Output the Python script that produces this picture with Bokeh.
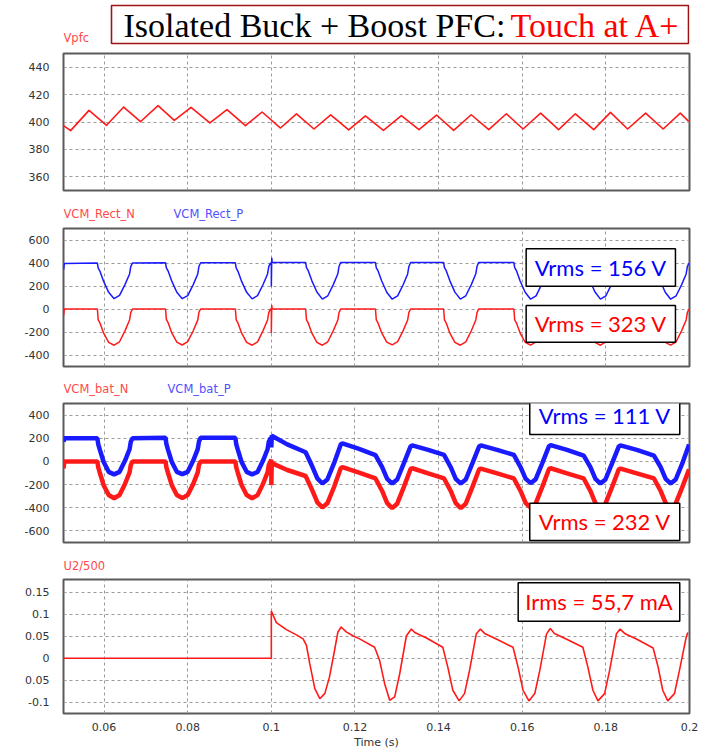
from bokeh.plotting import figure
from bokeh.models import Range1d, FixedTicker, BoxAnnotation, Label
from bokeh.layouts import column
from bokeh.core.properties import value
from bokeh.embed import file_html
from bokeh.resources import INLINE

# ---------------- data ----------------
x_ticks = [0.06, 0.08, 0.1, 0.12, 0.14, 0.16, 0.18, 0.2]
x_tick_labels = ["0.06", "0.08", "0.1", "0.12", "0.14", "0.16", "0.18", "0.2"]

# Panel 1: Vpfc
t_vpfc = [0.0503, 0.0520, 0.0564, 0.0606, 0.0647, 0.0687, 0.0729, 0.0768, 0.0808, 0.0853,
          0.0894, 0.0938, 0.0978, 0.1022, 0.1060, 0.1102, 0.1142, 0.1185, 0.1225, 0.1268,
          0.1311, 0.1353, 0.1395, 0.1436, 0.1478, 0.1520, 0.1562, 0.1602, 0.1644, 0.1687,
          0.1727, 0.1771, 0.1811, 0.1852, 0.1895, 0.1937, 0.1978, 0.1998]
vpfc = [397.3, 393.7, 408.5, 397.6, 410.9, 400.2, 411.9, 401.2, 410.7, 399.3,
        409.0, 397.3, 407.3, 395.6, 406.0, 394.9, 405.2, 394.2, 404.4, 393.9,
        404.6, 394.4, 405.1, 393.9, 405.3, 394.4, 406.0, 394.9, 406.5, 394.4,
        406.0, 394.4, 407.0, 394.9, 406.5, 394.9, 406.5, 400.5]
vpfc_ticks = [360, 380, 400, 420, 440]
vpfc_tick_labels = ["360", "380", "400", "420", "440"]

# Panel 2: VCM_Rect_N / VCM_Rect_P
t_rect = [0.0503, 0.0505,
          0.0584, 0.0586, 0.0590, 0.0599, 0.0611, 0.0624, 0.0637, 0.0650, 0.0661, 0.0664, 0.0668,
          0.0747, 0.0749, 0.0753, 0.0762, 0.0774, 0.0787, 0.0800, 0.0813, 0.0824, 0.0827, 0.0831,
          0.0914, 0.0916, 0.0920, 0.0929, 0.0941, 0.0954, 0.0967, 0.0980, 0.0991, 0.0994, 0.0998,
          0.1000, 0.1000, 0.1001, 0.1002,
          0.1082, 0.1084, 0.1088, 0.1097, 0.1109, 0.1122, 0.1135, 0.1148, 0.1159, 0.1162, 0.1166,
          0.1249, 0.1251, 0.1255, 0.1264, 0.1276, 0.1289, 0.1302, 0.1315, 0.1326, 0.1329, 0.1333,
          0.1412, 0.1414, 0.1418, 0.1427, 0.1439, 0.1452, 0.1465, 0.1478, 0.1489, 0.1492, 0.1496,
          0.1580, 0.1582, 0.1586, 0.1595, 0.1607, 0.1620, 0.1633, 0.1646, 0.1657, 0.1660, 0.1664,
          0.1747, 0.1749, 0.1753, 0.1762, 0.1774, 0.1787, 0.1800, 0.1813, 0.1824, 0.1827, 0.1831,
          0.1915, 0.1917, 0.1921, 0.1930, 0.1942, 0.1955, 0.1968, 0.1981, 0.1992, 0.1995, 0.1999]
vcm_rect_n = [-60, 0,
              0, -95, -120, -210, -290, -315, -285, -190, -95, -30, 0,
              0, -90, -118, -208, -288, -313, -284, -192, -97, -28, 0,
              0, -95, -120, -210, -290, -315, -286, -190, -95, -30, 0,
              0, -210, 35, 0,
              0, -92, -120, -210, -290, -315, -285, -190, -95, -30, 0,
              0, -95, -121, -208, -288, -312, -284, -190, -96, -30, 0,
              0, -94, -120, -210, -290, -315, -286, -191, -95, -29, 0,
              0, -95, -120, -209, -289, -314, -285, -190, -95, -30, 0,
              0, -93, -119, -210, -290, -315, -286, -190, -96, -30, 0,
              0, -95, -120, -210, -290, -314, -285, -190, -95, -30, 0]
vcm_rect_p = [340, 395,
              400, 355, 330, 240, 145, 90, 118, 212, 305, 370, 400,
              402, 358, 332, 242, 146, 90, 117, 210, 304, 372, 402,
              402, 356, 330, 240, 145, 88, 116, 211, 305, 370, 400,
              400, 195, 445, 405,
              405, 360, 335, 245, 148, 86, 115, 210, 306, 372, 405,
              405, 358, 333, 243, 146, 85, 114, 209, 305, 370, 405,
              405, 360, 335, 245, 147, 86, 115, 210, 306, 372, 405,
              405, 359, 334, 244, 146, 85, 114, 210, 305, 371, 405,
              405, 360, 335, 245, 148, 86, 115, 210, 306, 372, 405,
              405, 358, 333, 243, 146, 85, 115, 210, 305, 370, 400]
rect_ticks = [-400, -200, 0, 200, 400, 600]
rect_tick_labels = ["-400", "-200", "0", "200", "400", "600"]

# Panel 3: VCM_bat_N / VCM_bat_P
t_bat = [0.0503, 0.0505,
         0.0584, 0.0586, 0.0590, 0.0599, 0.0611, 0.0624, 0.0637, 0.0650, 0.0661, 0.0664, 0.0668,
         0.0747, 0.0749, 0.0753, 0.0762, 0.0774, 0.0787, 0.0800, 0.0813, 0.0824, 0.0827, 0.0831,
         0.0914, 0.0916, 0.0920, 0.0929, 0.0941, 0.0954, 0.0967, 0.0980, 0.0991, 0.0994, 0.0998,
         0.1000, 0.1000, 0.1001, 0.1038,
         0.1082, 0.1098, 0.1110, 0.1122, 0.1134, 0.1150, 0.1166, 0.1170, 0.1208,
         0.1249, 0.1265, 0.1277, 0.1289, 0.1301, 0.1317, 0.1333, 0.1337, 0.1375,
         0.1413, 0.1429, 0.1441, 0.1453, 0.1465, 0.1481, 0.1497, 0.1501, 0.1540,
         0.1580, 0.1596, 0.1608, 0.1620, 0.1632, 0.1648, 0.1664, 0.1668, 0.1707,
         0.1747, 0.1763, 0.1775, 0.1787, 0.1799, 0.1815, 0.1831, 0.1835, 0.1874,
         0.1915, 0.1931, 0.1943, 0.1955, 0.1967, 0.1983, 0.1999]
vcm_bat_n = [-60, 0,
             0, -50, -100, -205, -290, -318, -290, -195, -95, -30, 0,
             0, -52, -100, -205, -290, -317, -290, -196, -95, -30, 0,
             0, -50, -100, -206, -290, -318, -291, -195, -95, -30, 0,
             15, -205, -15, -74,
             -126, -250, -353, -397, -362, -221, -59, -50, -95,
             -147, -255, -360, -403, -365, -220, -65, -59, -103,
             -147, -255, -360, -403, -365, -220, -68, -62, -103,
             -147, -255, -358, -400, -364, -220, -65, -59, -103,
             -147, -255, -360, -403, -365, -220, -68, -62, -103,
             -147, -255, -360, -403, -365, -220, -68]
vcm_bat_p = [170, 200,
             200, 150, 100, -5, -90, -112, -90, 5, 105, 170, 200,
             205, 152, 100, -5, -90, -110, -90, 5, 106, 172, 205,
             205, 150, 100, -6, -90, -112, -91, 5, 105, 170, 200,
             200, 120, 222, 147,
             79, -44, -147, -191, -156, -15, 147, 156, 110,
             55, -50, -150, -191, -156, -15, 130, 138, 100,
             56, -50, -150, -191, -156, -15, 130, 138, 100,
             56, -50, -148, -188, -155, -15, 132, 140, 100,
             50, -50, -150, -191, -156, -15, 130, 138, 100,
             50, -50, -150, -191, -156, -15, 147]
bat_ticks = [-600, -400, -200, 0, 200, 400]
bat_tick_labels = ["-600", "-400", "-200", "0", "200", "400"]

# Panel 4: U2/500
t_u2 = [0.0503, 0.1000, 0.1000, 0.1012, 0.1036, 0.1060, 0.1076, 0.1084, 0.1092, 0.1104,
        0.1116, 0.1128, 0.1139, 0.1151, 0.1159, 0.1167, 0.1179, 0.1195, 0.1211,
        0.1247, 0.1259, 0.1271, 0.1283, 0.1295, 0.1307, 0.1323, 0.1335, 0.1343, 0.1371,
        0.1410, 0.1422, 0.1434, 0.1449, 0.1462, 0.1474, 0.1490, 0.1500, 0.1510, 0.1538,
        0.1578, 0.1590, 0.1602, 0.1616, 0.1630, 0.1642, 0.1658, 0.1667, 0.1677, 0.1705,
        0.1745, 0.1757, 0.1769, 0.1781, 0.1797, 0.1809, 0.1825, 0.1834, 0.1845, 0.1873,
        0.1913, 0.1925, 0.1936, 0.1948, 0.1964, 0.1976, 0.1992, 0.1996]
u2 = [0, 0, 0.1075, 0.081, 0.065, 0.053, 0.044, 0.029, -0.013, -0.069,
      -0.092, -0.080, -0.043, 0.017, 0.059, 0.071, 0.060, 0.051, 0.044,
      0.0248, -0.0053, -0.0579, -0.0955, -0.088, -0.0353, 0.0511, 0.0662, 0.0586, 0.0459,
      0.0248, -0.0203, -0.0729, -0.097, -0.0805, -0.0278, 0.0549, 0.0662, 0.0564, 0.0436,
      0.0248, -0.0203, -0.0729, -0.097, -0.0805, -0.0278, 0.0549, 0.0677, 0.0564, 0.0436,
      0.0248, -0.0203, -0.0729, -0.097, -0.0805, -0.0278, 0.0549, 0.0662, 0.0564, 0.0436,
      0.0233, -0.0203, -0.0729, -0.097, -0.0805, -0.0278, 0.0474, 0.0586]
u2_ticks = [-0.1, -0.05, 0, 0.05, 0.1, 0.15]
u2_tick_labels = ["-0.1", "0.05", "0", "0.05", "0.1", "0.15"]

# ---------------- styling ----------------
RED = "#ff1a1a"
BLUE = "#1a1aff"
LBL_RED = "#ff4a4a"
LBL_BLUE = "#5050ff"
SANS = "DejaVu Sans"
BOXFONT = "Lato"
XR = (0.0503, 0.2)
FL, FR = 63, 689          # frame left / right in pixels
W = 705


def strip(height, items, yc):
    """Text strip above a panel; x and y are pixel positions."""
    s = figure(width=W, height=height, x_range=Range1d(FL, FR), y_range=Range1d(height, 0),
               output_backend="svg", toolbar_location=None,
               min_border_left=FL, min_border_right=W - FR, min_border_top=0, min_border_bottom=0,
               x_axis_location=None, y_axis_location=None)
    s.grid.visible = False
    s.outline_line_color = None
    for x, txt, col in items:
        s.text(x=[x], y=[yc], text=[txt], text_color=col, text_font=value(SANS),
               text_font_size="11.5px", text_baseline="middle", text_align="left")
    return s


def panel(height, top, bottom, yr, yticks, ylabels, show_x=False):
    p = figure(width=W, height=height, x_range=Range1d(*XR), y_range=Range1d(*yr),
               output_backend="svg", toolbar_location=None,
               min_border_left=FL, min_border_right=W - FR,
               min_border_top=top, min_border_bottom=bottom)
    p.outline_line_color = "#5a5a5a"
    p.outline_line_width = 2
    p.yaxis.ticker = FixedTicker(ticks=yticks)
    p.ygrid.ticker = FixedTicker(ticks=yticks)
    p.yaxis.major_label_overrides = {k: v for k, v in zip(yticks, ylabels)}
    p.xgrid.ticker = FixedTicker(ticks=x_ticks[:-1])
    for ax in p.yaxis:
        ax.axis_line_color = None
        ax.major_tick_line_color = None
        ax.minor_tick_line_color = None
        ax.major_tick_out = 0
        ax.major_tick_in = 0
        ax.major_label_standoff = 14
        ax.major_label_text_font = SANS
        ax.major_label_text_font_size = "11px"
        ax.major_label_text_color = "#333333"
    for g in (p.xgrid[0], p.ygrid[0]):
        g.grid_line_color = "#9a9a9a"
        g.grid_line_dash = "3 3"
        g.grid_line_width = 1
    if show_x:
        ax = p.xaxis[0]
        ax.ticker = FixedTicker(ticks=x_ticks)
        ax.major_label_overrides = {k: v for k, v in zip(x_ticks, x_tick_labels)}
        ax.axis_line_color = None
        ax.major_tick_line_color = None
        ax.minor_tick_line_color = None
        ax.major_tick_out = 0
        ax.major_tick_in = 0
        ax.major_label_standoff = 9
        ax.major_label_text_font = SANS
        ax.major_label_text_font_size = "11px"
        ax.major_label_text_color = "#333333"
        ax.axis_label = "Time (s)"
        ax.axis_label_text_font = SANS
        ax.axis_label_text_font_style = "normal"
        ax.axis_label_text_font_size = "11px"
        ax.axis_label_text_color = "#333333"
        ax.axis_label_standoff = 2
    else:
        p.xaxis.visible = False
    return p


def value_box(p, left, right, top, bottom, cx, cy, text, color):
    p.add_layout(BoxAnnotation(left=left, right=right, top=top, bottom=bottom,
                               fill_color="white", fill_alpha=1.0,
                               line_color="black", line_width=1.5, line_alpha=1.0))
    p.add_layout(Label(x=cx, y=cy, text=text, text_color=color, text_font=BOXFONT,
                       text_font_size="22px", text_align="center", text_baseline="middle"))


# ---- title strip (pixel coordinates) ----
pt = strip(48, [(63, "Vpfc", LBL_RED)], 37)
pt.quad(left=[111], right=[688], top=[5], bottom=[43], fill_color=None,
        line_color="#a31212", line_width=1.6)
pt.text(x=[123], y=[25], text=["Isolated Buck + Boost PFC:"], text_color="black",
        text_font=value("Liberation Serif"), text_font_size="34px",
        text_baseline="middle", text_align="left")
pt.text(x=[510], y=[25], text=["Touch at A+"], text_color="#ff0000",
        text_font=value("Liberation Serif"), text_font_size="34px",
        text_baseline="middle", text_align="left")

# ---- panel 1 ----
p1 = panel(149, 5, 7, (350, 450), vpfc_ticks, vpfc_tick_labels)
p1.line(t_vpfc, vpfc, line_color=RED, line_width=1.6, line_join="round")

# ---- panel 2 ----
s2 = strip(24, [(63, "VCM_Rect_N", LBL_RED), (173, "VCM_Rect_P", LBL_BLUE)], 16)
p2 = panel(151, 7, 6, (-500, 700), rect_ticks, rect_tick_labels)
p2.line(t_rect, vcm_rect_p, line_color=BLUE, line_width=1.5)
p2.line(t_rect, vcm_rect_n, line_color=RED, line_width=1.5)
value_box(p2, 0.16094, 0.19664, 523.5, 198.3, 0.17878, 361, "Vrms = 156 V", "#0000ff")
value_box(p2, 0.16094, 0.19664, 30.4, -288.7, 0.17878, -129, "Vrms = 323 V", "#ff0000")

# ---- panel 3 ----
s3 = strip(24, [(63, "VCM_bat_N", LBL_RED), (167, "VCM_bat_P", LBL_BLUE)], 16)
p3 = panel(152, 7, 6, (-700, 500), bat_ticks, bat_tick_labels)
p3.line(t_bat, vcm_bat_p, line_color=BLUE, line_width=4.5)
p3.line(t_bat, vcm_bat_n, line_color=RED, line_width=4.5)
value_box(p3, 0.16180, 0.19767, 554.4, 232.4, 0.17974, 394, "Vrms = 111 V", "#0000ff")
value_box(p3, 0.16180, 0.19767, -360.7, -682.8, 0.17974, -521, "Vrms = 232 V", "#ff0000")

# ---- panel 4 ----
s4 = strip(24, [(63, "U2/500", LBL_RED)], 17)
p4 = panel(180, 7, 39, (-0.1257, 0.179), u2_ticks, u2_tick_labels, show_x=True)
p4.line(t_u2, u2, line_color=RED, line_width=1.6)
value_box(p4, 0.15903, 0.19767, 0.1715, 0.0842, 0.17835, 0.1279, "Irms = 55,7 mA", "#ff0000")

p = column(pt, p1, s2, p2, s3, p3, s4, p4, spacing=0)
open("out.html", "w").write(file_html(p, INLINE))
